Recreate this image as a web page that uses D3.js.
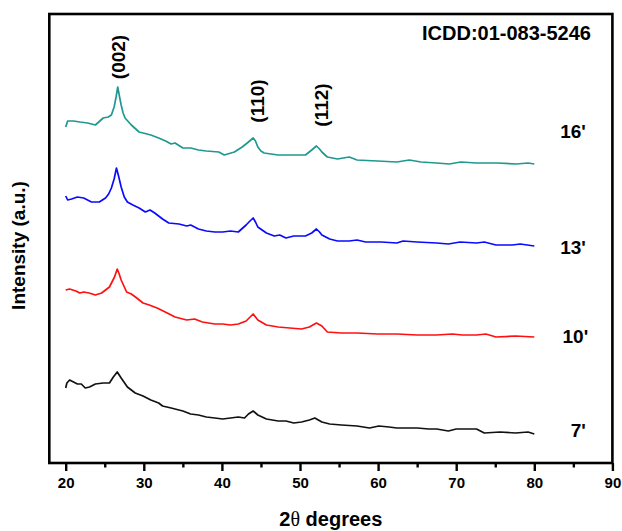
<!DOCTYPE html>
<html>
<head>
<meta charset="utf-8">
<script src="https://cdn.jsdelivr.net/npm/d3@7"></script>
<style>
  html, body { margin: 0; padding: 0; background: #fff; }
  svg { display: block; }
  text { font-family: "Liberation Sans", Arial, sans-serif; font-weight: bold; fill: #000; }
</style>
</head>
<body>
<svg id="chart" width="622" height="531"></svg>
<script>
// XRD patterns, [2θ (deg), intensity (a.u., stacked)]
const pattern16 = [
  [20.0,336],[20.25,342],[21.0,342],[21.8,341],[22.8,340],[23.8,338],[24.8,345],[25.45,346],
  [25.85,348],[26.2,356],[26.45,366],[26.66,376],[26.9,366],[27.1,358],[27.35,350],[27.6,345],
  [28.4,338],[29.4,331],[29.9,330],[30.9,328],[31.9,325],[32.8,322],[33.5,319],[34.0,320],
  [35.0,315],[36.0,315],[37.0,313],[38.0,312],[39.6,311],[40.3,308],[41.6,311],[42.6,316],
  [43.4,321],[44.0,325],[44.3,322],[44.6,316],[45.0,312],[45.4,310],[47.2,308],[49.2,308],
  [50.7,308],[51.5,313],[52.1,317],[52.5,314],[52.8,311],[53.5,306],[54.8,304],[56.3,306],
  [57.3,303],[59.9,302],[62.4,301],[64.0,303],[65.5,301],[67.5,300],[69.1,299],[70.6,301],
  [72.6,300],[75.2,300],[77.7,299],[79.2,300],[80.0,299]
];
const pattern13 = [
  [20.0,267],[20.25,263],[20.76,264],[21.5,266],[22.3,265],[23.3,261],[24.3,261],[25.1,265],
  [25.5,269],[25.85,275],[26.2,284],[26.5,295],[26.8,286],[27.1,276],[27.5,266],[27.9,261],
  [28.6,258],[29.4,255],[30.2,251],[30.8,253],[31.4,250],[32.4,244],[33.2,240],[34.5,239],
  [35.5,237],[36.0,238],[37.0,234],[38.0,232],[39.1,231],[40.1,231],[41.1,232],[42.1,231],
  [43.1,238],[43.6,242],[44.0,245],[44.3,241],[44.6,236],[45.7,230],[46.7,227],[47.4,228],
  [48.2,225],[49.2,227],[50.7,227],[51.5,230],[52.1,234],[52.5,231],[52.8,228],[53.8,224],
  [54.8,222],[56.3,222],[57.3,223],[58.4,221],[60.4,221],[62.4,220],[63.2,222],[65.0,221],
  [67.5,220],[69.0,219],[70.5,221],[72.6,220],[73.6,221],[75.1,218],[77.2,218],[78.2,219],
  [80.0,217]
];
const pattern10 = [
  [20.0,173],[20.5,174],[21.3,172],[21.8,170],[22.3,171],[23.0,170],[23.8,168],[24.6,170],
  [25.6,176],[26.25,186],[26.6,194],[26.85,189],[27.1,183],[27.8,171],[28.4,169],[29.1,165],
  [29.9,160],[30.7,158],[31.7,155],[33.0,150],[34.0,146],[35.5,143],[36.5,144],[37.5,141],
  [39.1,139],[40.1,139],[41.1,138],[42.1,139],[43.1,142],[44.0,149],[44.6,143],[45.7,138],
  [47.2,136],[48.7,135],[50.2,134],[51.2,136],[52.1,140],[52.8,137],[53.5,131],[55.3,130],
  [57.3,130],[59.9,129],[62.4,129],[65.0,128],[67.5,128],[69.5,129],[70.8,128],[72.6,128],
  [73.8,129],[75.1,126],[77.6,127],[80.0,126]
];
const pattern7 = [
  [20.0,75],[20.15,80],[20.5,83],[21.0,81],[21.5,79],[22.0,79],[22.5,75],[23.05,76],
  [23.8,79],[24.8,80],[25.6,80],[26.1,86],[26.6,91],[26.85,88],[27.1,85],[27.9,76],
  [28.9,70],[29.9,67],[30.9,63],[31.9,60],[32.4,57],[33.5,55],[35.0,52],[36.0,49],
  [37.0,48],[38.0,46],[39.1,45],[40.1,44],[41.1,45],[42.1,46],[42.9,45],[43.4,49],
  [44.0,52],[44.6,48],[45.7,44],[47.2,42],[48.2,42],[49.2,40],[50.2,41],[51.2,43],
  [51.9,45],[52.8,41],[53.8,39],[55.3,38],[57.3,37],[58.9,35],[60.1,37],[61.4,36],
  [62.4,35],[65.0,35],[66.5,34],[67.5,34],[69.0,32],[70.0,34],[72.6,34],[73.6,30],
  [75.6,31],[77.6,30],[79.2,31],[80.0,29]
];

const seriesNames  = ["16'", "13'", "10'", "7'"];
const seriesData   = [pattern16, pattern13, pattern10, pattern7];
const seriesColors = ["#1f9890", "#0a0aff", "#ff1010", "#111111"];
const seriesLabelX = [86.6, 86.6, 86.9, 86.6];
const seriesLabelY = [332, 216, 127, 33];

// Reflection indices (hkl) with the 2θ and height where they are written
const peakLabels = ["(002)", "(110)", "(112)"];
const peakX      = [26.8, 44.6, 52.8];
const peakY      = [406, 362, 358];

const xTicks      = [20, 30, 40, 50, 60, 70, 80, 90];
const xMinorTicks = [25, 35, 45, 55, 65, 75, 85];
const refCard     = "ICDD:01-083-5246";

const svg = d3.select("#chart");
const plotLeft = 49.3, plotRight = 612.4, plotTop = 14, plotBottom = 463;

const x = d3.scaleLinear().domain([17.9, 90]).range([plotLeft, plotRight]);
const y = d3.scaleLinear().domain([0, 449]).range([plotBottom, plotTop]);

// frame
svg.append("rect")
  .attr("x", plotLeft).attr("y", plotTop)
  .attr("width", plotRight - plotLeft).attr("height", plotBottom - plotTop)
  .attr("fill", "none").attr("stroke", "#000").attr("stroke-width", 2.6);

// bottom axis: major + minor ticks
const xAxis = d3.axisBottom(x).tickValues(xTicks).tickFormat(d3.format("d"))
  .tickSize(8).tickPadding(6);
const gx = svg.append("g").attr("transform", `translate(0,${plotBottom})`).call(xAxis);
gx.select(".domain").remove();
gx.selectAll(".tick line").attr("stroke", "#000").attr("stroke-width", 2.4);
gx.selectAll(".tick text").style("font-size", "15px").style("font-weight", "bold")
  .attr("fill", "#000").style("font-family", "'Liberation Sans', Arial, sans-serif");

const xMinor = d3.axisBottom(x).tickValues(xMinorTicks).tickFormat("").tickSize(4.5);
const gm = svg.append("g").attr("transform", `translate(0,${plotBottom})`).call(xMinor);
gm.select(".domain").remove();
gm.selectAll(".tick line").attr("stroke", "#000").attr("stroke-width", 2.4);

// patterns
const line = d3.line().x(d => x(d[0])).y(d => y(d[1]));
svg.append("g").selectAll("path")
  .data(seriesData)
  .join("path")
  .attr("d", line)
  .attr("fill", "none")
  .attr("stroke", (d, i) => seriesColors[i])
  .attr("stroke-width", 1.7)
  .attr("stroke-linejoin", "round");

// series labels
svg.append("g").selectAll("text")
  .data(seriesNames)
  .join("text")
  .attr("x", (d, i) => x(seriesLabelX[i]))
  .attr("y", (d, i) => y(seriesLabelY[i]))
  .attr("text-anchor", "end")
  .attr("dominant-baseline", "central")
  .style("font-size", "19px")
  .text(d => d);

// hkl labels, written vertically
svg.append("g").selectAll("text")
  .data(peakLabels)
  .join("text")
  .attr("transform", (d, i) => `translate(${x(peakX[i])},${y(peakY[i])}) rotate(-90)`)
  .attr("text-anchor", "middle")
  .attr("dominant-baseline", "central")
  .style("font-size", "19px")
  .text(d => d);

// reference card
svg.append("text")
  .attr("x", 591).attr("y", 40)
  .attr("text-anchor", "end")
  .style("font-size", "20px")
  .text(refCard);

// axis titles
const xt = svg.append("text")
  .attr("x", (plotLeft + plotRight) / 2).attr("y", 526)
  .attr("text-anchor", "middle")
  .style("font-size", "20px");
xt.append("tspan").text("2");
xt.append("tspan").style("font-family", "'Liberation Serif', 'Times New Roman', serif")
  .style("font-weight", "normal").text("θ");
xt.append("tspan").text(" degrees");

svg.append("text")
  .attr("transform", `translate(25,${(plotTop + plotBottom) / 2 + 7}) rotate(-90)`)
  .attr("text-anchor", "middle")
  .style("font-size", "19px")
  .text("Intensity (a.u.)");
</script>
</body>
</html>
